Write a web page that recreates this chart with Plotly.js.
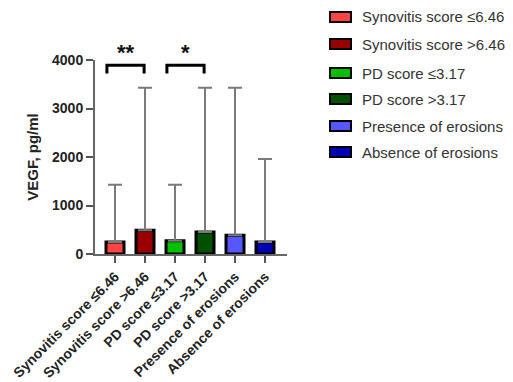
<!DOCTYPE html>
<html>
<head>
<meta charset="utf-8">
<script src="https://cdn.plot.ly/plotly-3.0.1.min.js"></script>
<style>html,body{margin:0;padding:0;background:#fff;}#chart{width:513px;height:382px;}</style>
</head>
<body>
<div id="chart"></div>
<script>
// VEGF levels by clinical / ultrasound subgroup
var categories = ['Synovitis score ≤6.46', 'Synovitis score >6.46', 'PD score ≤3.17',
                  'PD score >3.17', 'Presence of erosions', 'Absence of erosions'];
var medians  = [250, 490, 275, 455, 385, 250];        // bar heights, pg/ml
var maxima   = [1430, 3430, 1430, 3430, 3430, 1960];  // upper whisker, pg/ml
var colors   = ['#ff4444', '#990000', '#00c000', '#005000', '#5757ff', '#0000b4'];
var sigPairs = [[0, 1, '**'], [2, 3, '*']];

var FONT = 'Liberation Sans, Arial, sans-serif';
var W = 513, H = 382;
var M = {l: 95, r: 226, t: 60, b: 128};
var PW = W - M.l - M.r, PH = H - M.t - M.b;
function px2x(px) { return (px - M.l) / PW; }
function py2y(py) { return (H - M.b - py) / PH; }

var traces = categories.map(function (c, i) {
  return {
    type: 'bar',
    x: [c],
    y: [medians[i]],
    width: 0.6,
    marker: {color: colors[i], line: {color: '#000', width: 3}},
    error_y: {type: 'data', symmetric: false, array: [maxima[i] - medians[i]],
              arrayminus: [0], color: '#7a7a7a', thickness: 2, width: 7},
    showlegend: false,
    hoverinfo: 'skip'
  };
});

var shapes = [];
var annotations = [];

// significance brackets with stars
sigPairs.forEach(function (p) {
  var a = p[0] - 0.27, b = p[1] - 0.03;
  shapes.push({type: 'path', xref: 'x', yref: 'y',
    path: 'M' + a + ',3720 L' + a + ',3890 L' + b + ',3890 L' + b + ',3720',
    line: {color: '#000', width: 3}});
  annotations.push({xref: 'x', yref: 'paper', x: (a + b) / 2, y: py2y(53), text: '<b>' + p[2] + '</b>',
    showarrow: false, yanchor: 'middle', font: {family: FONT, size: 22, color: '#111'}});
});

// legend: swatch + label per group
var legendY = [17, 44, 73, 99, 126, 152];
categories.forEach(function (c, i) {
  shapes.push({type: 'rect', xref: 'paper', yref: 'paper', layer: 'above',
    x0: px2x(330), x1: px2x(351),
    y0: py2y(legendY[i] + 5), y1: py2y(legendY[i] - 5),
    fillcolor: colors[i], line: {color: '#000', width: 2}});
  annotations.push({xref: 'paper', yref: 'paper', x: px2x(360), y: py2y(legendY[i]),
    xanchor: 'left', yanchor: 'middle',
    text: c, showarrow: false, font: {family: FONT, size: 15, color: '#333'}});
});

var layout = {
  width: W, height: H,
  margin: M,
  paper_bgcolor: '#fff', plot_bgcolor: '#fff',
  barmode: 'overlay',
  showlegend: false,
  font: {family: FONT, color: '#222'},
  xaxis: {
    type: 'category', range: [-0.667, 5.733],
    showline: true, linecolor: '#666', linewidth: 2,
    ticks: 'outside', ticklen: 7, tickwidth: 2, tickcolor: '#555',
    tickangle: -45, showgrid: false, zeroline: false,
    tickfont: {family: FONT, size: 14, color: '#222', weight: 'bold'}
  },
  yaxis: {
    range: [0, 4000], tickvals: [0, 1000, 2000, 3000, 4000],
    showline: true, linecolor: '#666', linewidth: 2,
    ticks: 'outside', ticklen: 7, tickwidth: 2, tickcolor: '#555',
    showgrid: false, zeroline: false,
    tickfont: {family: FONT, size: 14, color: '#222', weight: 'bold'},
    title: {text: 'VEGF, pg/ml', standoff: 10,
            font: {family: FONT, size: 15, color: '#222', weight: 'bold'}}
  },
  shapes: shapes,
  annotations: annotations
};

Plotly.newPlot('chart', traces, layout, {staticPlot: true, displayModeBar: false});
</script>
</body>
</html>
